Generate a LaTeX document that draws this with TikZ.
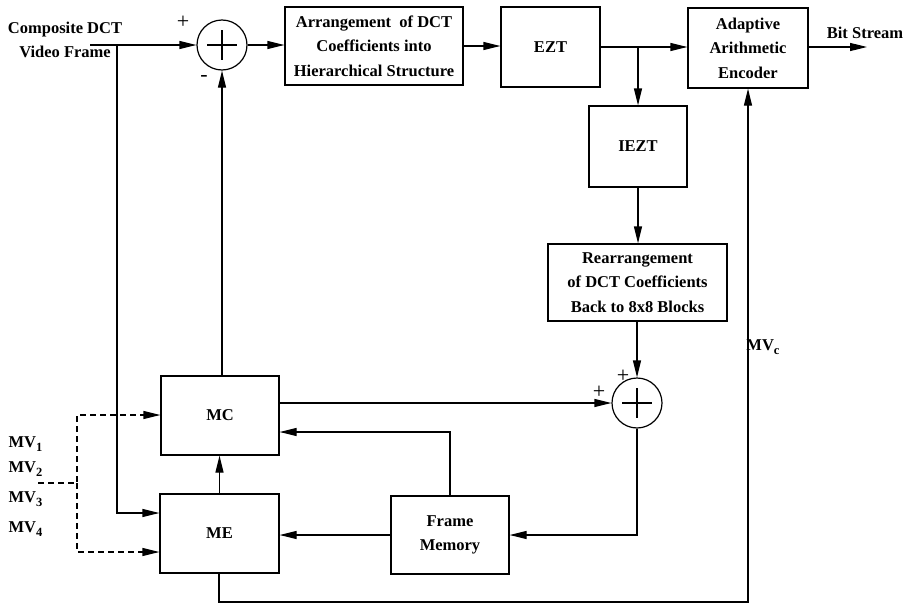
\documentclass[tikz,border=0pt]{standalone}
\usepackage{fontspec}
\setmainfont{Liberation Serif}
\usetikzlibrary{arrows.meta,calc}
\newcommand{\mvsub}[1]{MV\raisebox{-4pt}{\fontsize{12.5}{12.5}\selectfont #1}}
\begin{document}
\begin{tikzpicture}[x=1pt,y=-1pt,
  line width=1.2pt,
  every node/.style={font=\fontsize{16.5}{24.5}\selectfont\bfseries},
  blk/.style={draw,rectangle,align=center,inner sep=0pt},
  sumc/.style={draw,circle,minimum size=50pt,inner sep=0pt},
  arr/.style={-{Triangle[length=17pt,width=8pt]}},
  lbl/.style={inner sep=0pt},
  sgn/.style={inner sep=0pt,font=\fontsize{22}{22}\selectfont}
]
\useasboundingbox (0,0) rectangle (911,605);
% blocks
\node[blk,minimum width=178pt,minimum height=78pt] (arrg) at (374,46) {Arrangement\ \ of DCT\\Coefficients into\\Hierarchical Structure};
\node[blk,minimum width=99pt,minimum height=80pt] (ezt) at (550.5,47) {EZT};
\node[blk,minimum width=120pt,minimum height=80pt] (aae) at (748,48) {Adaptive\\Arithmetic\\Encoder};
\node[blk,minimum width=98pt,minimum height=81pt] (iezt) at (638,146.5) {IEZT};
\node[blk,minimum width=179pt,minimum height=77pt] (rearr) at (637.5,282.5) {Rearrangement\\of DCT Coefficients\\Back to 8x8 Blocks};
\node[blk,minimum width=118pt,minimum height=79pt] (mc) at (220,415.5) {MC};
\node[blk,minimum width=119pt,minimum height=79pt] (me) at (219.5,533.5) {ME};
\node[blk,minimum width=118pt,minimum height=78pt] (fm) at (450,535) {Frame\\Memory};
% summers
\node[sumc] (s1) at (222,45) {};
\node[sumc] (s2) at (637,403) {};
\draw (s1.center) ++(-15,0) -- ++(30,0);
\draw (s1.center) ++(0,-15) -- ++(0,30);
\draw (s2.center) ++(-15,0) -- ++(30,0);
\draw (s2.center) ++(0,-15) -- ++(0,30);
% labels
\node[lbl,align=center] (inlbl) at (65,40) {Composite DCT\\Video Frame};
\node[lbl] (bits) at (865,33) {Bit Stream};
\node[lbl] (mvc) at (763,347) {\mvsub{c}};
\node[lbl,anchor=west] (mv1) at (8,444) {\mvsub{1}};
\node[lbl,anchor=west] (mv2) at (8,469) {\mvsub{2}};
\node[lbl,anchor=west] (mv3) at (8,499) {\mvsub{3}};
\node[lbl,anchor=west] (mv4) at (8,529) {\mvsub{4}};
\node[sgn] (p1) at (183,22) {+};
\node[sgn] (m1) at (204,78) {-};
\node[sgn] (p2) at (623,376) {+};
\node[sgn] (p3) at (599,392) {+};
% coordinates
\coordinate (in) at (90,45);
\coordinate (tap) at (117,45);
\coordinate (br) at (638,47);
\coordinate (bso) at (867,47);
\coordinate (bl) at (219,602);
\coordinate (mvs) at (38,483);
\coordinate (mvj) at (77,483);
% connectors
\draw[arr] (in) -- (s1.west);
\draw[arr] (tap) |- ($(me.west)+(0,-20.5)$);
\draw[arr] (s1.east) -- (arrg.west |- s1.east);
\draw[arr] (arrg.east) -- (ezt.west |- arrg.east);
\draw[arr] (ezt.east) -- (aae.west |- ezt.east);
\draw[arr] (br) -- (iezt.north -| br);
\draw[arr] (iezt.south) -- (rearr.north -| iezt.south);
\draw[arr] (rearr.south -| s2) -- (s2.north);
\draw[arr] (aae.east |- bso) -- (bso);
\draw[arr] (mc.north -| s1) -- (s1.south);
\draw[arr] (me.north) -- (me.north |- mc.south);
\draw[arr] (mc.east |- s2) -- (s2.west);
\draw[arr] (fm.north) |- (mc.east |- 0,432);
\draw[arr] (s2.south) |- (fm.east);
\draw[arr] (fm.west) -- (me.east |- fm.west);
\draw[arr] (me.south -| bl) -- (bl) -| (aae.south);
\draw[arr,dash pattern=on 6pt off 4pt] (mvs) -- (mvj) |- (mc.west |- 0,415);
\draw[arr,dash pattern=on 6pt off 4pt] (mvj) |- (me.west |- 0,552);
\end{tikzpicture}
\end{document}
